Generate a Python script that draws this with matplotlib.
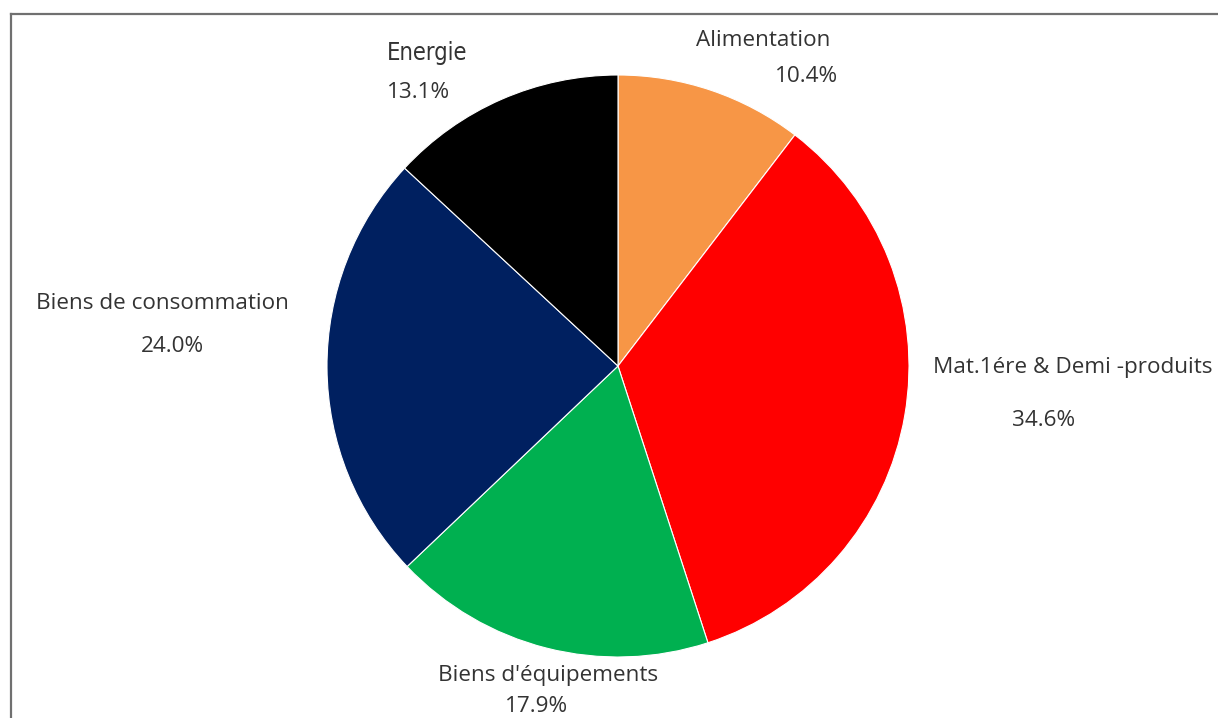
import matplotlib
matplotlib.use("Agg")
import matplotlib.pyplot as plt
from matplotlib.lines import Line2D

categories = ["Alimentation", "Mat.1ére & Demi -produits", "Biens d'équipements",
              "Biens de consommation", "Energie"]
values = [10.4, 34.6, 17.9, 24.0, 13.1]
colors = ["#F79646", "#FF0000", "#00B050", "#002060", "#000000"]

W, H = 1218, 718
fig = plt.figure(figsize=(W / 100, H / 100), dpi=100)
fig.patch.set_facecolor("white")

cx, cy, r = 618, 366, 291
ax = fig.add_axes([(cx - r) / W, (H - cy - r) / H, 2 * r / W, 2 * r / H])
ax.pie(values, colors=colors, startangle=90, counterclock=False, radius=1,
       wedgeprops=dict(edgecolor="white", linewidth=0.8))
ax.set_xlim(-1, 1)
ax.set_ylim(-1, 1)
ax.set_aspect("equal")
ax.axis("off")

# frame (top and left edges visible)
fig.add_artist(Line2D([11 / W, 11 / W], [0, 1 - 14 / H], transform=fig.transFigure,
                      color="#707070", lw=1.6))
fig.add_artist(Line2D([11 / W, 1], [1 - 14 / H, 1 - 14 / H], transform=fig.transFigure,
                      color="#707070", lw=1.6))

txtc = "#333333"
font = ["Open Sans", "DejaVu Sans"]
fs = 16.2
# label positions (pixel centers) for name and percentage
pos = {
    "Alimentation": ((763, 40), (807, 76)),
    "Mat.1ére & Demi -produits": ((1073, 367), (1044, 421)),
    "Biens d'équipements": ((548, 676), (537, 706)),
    "Biens de consommation": ((162, 303), (172, 346)),
    "Energie": ((427, 53), (419, 93)),
}
for cat, val in zip(categories, values):
    (nx, ny), (px, py) = pos[cat]
    if cat == "Energie":
        fig.text(nx / W, 1 - ny / H, cat, ha="center", va="center", color=txtc,
                 fontsize=17, family="DejaVu Sans", fontstretch="condensed")
    else:
        fig.text(nx / W, 1 - ny / H, cat, ha="center", va="center", color=txtc,
                 fontsize=fs, family=font)
    fig.text(px / W, 1 - py / H, f"{val:.1f}%", ha="center", va="center", color=txtc,
             fontsize=fs, family=font)

fig.savefig("out.png", dpi=100)
